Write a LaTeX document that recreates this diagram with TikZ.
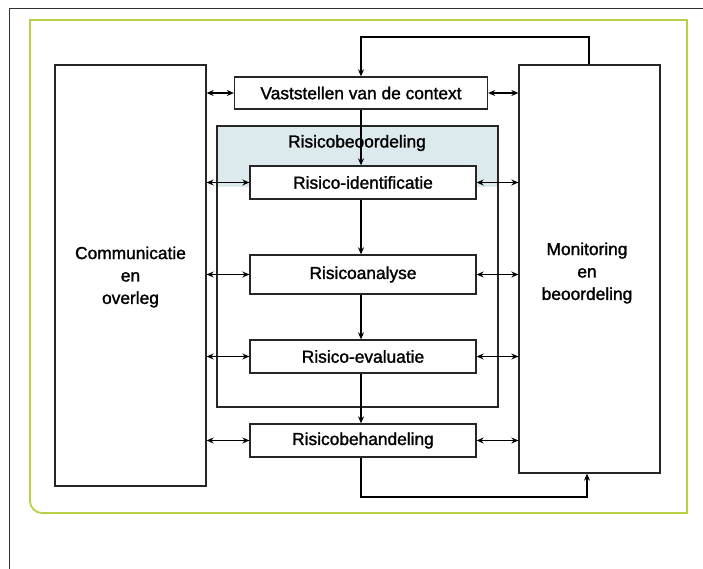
\documentclass[tikz,border=0pt]{standalone}
\usepackage{fontspec}
\setmainfont{Liberation Sans}
\newfontfamily\diafont[FakeBold=1.5]{Liberation Sans}
\usetikzlibrary{arrows.meta}
\definecolor{framegreen}{HTML}{B8CF48}
\definecolor{shadeblue}{HTML}{DCEAEE}
\begin{document}
\begin{tikzpicture}[x=1bp,y=-1bp,
  lab/.style={font=\diafont\fontsize{17.4}{22.5}\selectfont,align=center},
  box/.style={lab,draw=black!85,line width=1.3bp,fill=white,inner sep=0pt},
  conn/.style={black,line width=1.4bp},
  tip/.style={-{Stealth[length=7bp,width=6bp]}},
  dtip/.style={{Stealth[length=7bp,width=6bp]}-{Stealth[length=7bp,width=6bp]}}]
\useasboundingbox (0,0) rectangle (703,569);
% outer black frame
\draw[black!80,line width=1bp] (9,569) -- (9,9) -- (703,9);
% green frame
\draw[framegreen,line width=1.8bp] (30,20) -- (687,20) -- (687,513) -- (42,513)
  arc[start angle=90,end angle=180,radius=12] -- cycle;
% Risicobeoordeling group
\fill[shadeblue] (217,126) rectangle (498,187);
\node[draw=black!85,line width=1.3bp,minimum width=281bp,minimum height=281bp,inner sep=0pt] (grp) at (357.5,266.5) {};
\node[lab] (grplab) at (357,143) {Risicobeoordeling};
% boxes
\node[box,minimum width=151bp,minimum height=421bp] (com) at (130.5,275.5) {};
\node[lab] (comlab) at (130.5,277) {Communicatie\\en\\overleg};
\node[box,minimum width=141bp,minimum height=408bp] (mon) at (589.5,269) {};
\node[lab] (monlab) at (587,273) {Monitoring\\en\\beoordeling};
\node[box,minimum width=253bp,minimum height=32bp] (ctx) at (361,93) {Vaststellen van de context};
\node[box,minimum width=226bp,minimum height=33bp] (ide) at (363,182.5) {Risico-identificatie};
\node[box,minimum width=226bp,minimum height=39bp] (ana) at (363,274.5) {Risicoanalyse};
\node[box,minimum width=226bp,minimum height=33bp] (eva) at (363,356.5) {Risico-evaluatie};
\node[box,minimum width=226bp,minimum height=33bp] (beh) at (363,440.5) {Risicobehandeling};
% helper coordinates
\coordinate (toprow) at (0,37);
\coordinate (botrow) at (0,497);
\coordinate (vx) at (361,0);
\coordinate (tx) at (589,0);
\coordinate (bx) at (587,0);
% top loop
\draw[conn,tip] (mon.north -| tx) |- (toprow -| vx) -- (ctx.north -| vx);
% vertical flow
\draw[conn,tip] (ctx.south -| vx) -- (ide.north -| vx);
\draw[conn,tip] (ide.south -| vx) -- (ana.north -| vx);
\draw[conn,tip] (ana.south -| vx) -- (eva.north -| vx);
\draw[conn,tip] (eva.south -| vx) -- (beh.north -| vx);
% bottom loop
\draw[conn,tip] (beh.south -| vx) |- (botrow -| bx) -- (mon.south -| bx);
% side arrows
\foreach \n in {ctx,ide,ana,eva,beh}{
  \draw[conn,dtip] (com.east |- \n.west) -- (\n.west);
  \draw[conn,dtip] (\n.east) -- (mon.west |- \n.east);
}
\end{tikzpicture}
\end{document}
